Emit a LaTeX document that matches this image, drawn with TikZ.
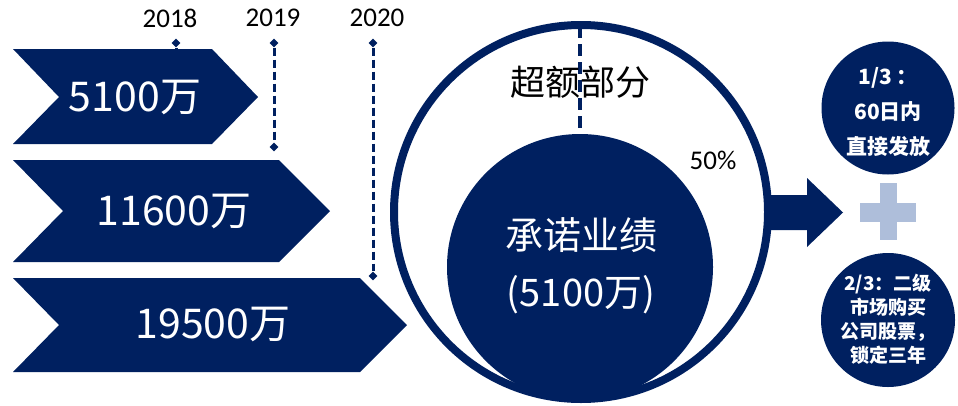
\documentclass[tikz,border=0pt]{standalone}
\usepackage{fontspec}
\setmainfont{Carlito}
\newfontfamily\cjk{Noto Sans CJK SC}
\usetikzlibrary{shapes.geometric}
\definecolor{navy}{RGB}{0,32,96}
\definecolor{plusblue}{RGB}{174,190,218}
\tikzset{
  chev/.style={fill=navy, draw=none},
  bigtxt/.style={text=white, font=\cjk\fontsize{41}{41}\selectfont, inner sep=0pt},
  yeartxt/.style={font=\fontsize{27}{27}\selectfont, text=black, inner sep=0pt},
  marker/.style={diamond, fill=navy, inner sep=0pt, minimum size=9pt},
  tline/.style={navy, line width=3pt, dash pattern=on 8pt off 4pt},
  smalltxt/.style={text=white, align=center, inner sep=0pt},
}
\begin{document}
\begin{tikzpicture}[x=1pt,y=-1pt]
\useasboundingbox (0,0) rectangle (958,405);
% chevrons
\fill[chev] (13,49) -- (212,49) -- (258,97) -- (212,144) -- (13,144) -- (59,97) -- cycle;
\fill[chev] (13,160) -- (279,160) -- (330,211) -- (279,262) -- (13,262) -- (63,211) -- cycle;
\fill[chev] (13,278) -- (360,278) -- (407,325) -- (360,372) -- (13,372) -- (59,325) -- cycle;
\node[bigtxt] (v1) at (135,97) {5100万};
\node[bigtxt] (v2) at (174,211) {11600万};
\node[bigtxt] (v3) at (213,324) {19500万};
% timeline
\node[yeartxt] (y1) at (170,18) {2018};
\node[yeartxt] (y2) at (273,18) {2019};
\node[yeartxt] (y3) at (377,18) {2020};
\node[marker] (m1) at (176,43) {};
\coordinate (m1b) at (176,49);
\draw[navy, line width=3pt] (m1) -- (m1b);
\node[marker] (m2) at (274,43) {};
\node[marker] (m2b) at (274,147) {};
\draw[tline] (m2) -- (m2b);
\node[marker] (m3) at (373,43) {};
\node[marker] (m3b) at (373,276) {};
\draw[tline] (m3) -- (m3b);
% big circle
\draw[navy, line width=8pt] (581,212) circle[radius=187];
\node[circle, fill=navy, minimum size=266pt, inner sep=0pt] (inner) at (580,267) {};
\coordinate (dtop) at (580,26);
\draw[navy, line width=4.5pt, dash pattern=on 12pt off 6pt] (dtop) -- (inner.north);
\node[font=\cjk\fontsize{35}{35}\selectfont, text=black, inner sep=0pt] (excess) at (580,82) {超额部分};
\node[font=\cjk\fontsize{38}{38}\selectfont, text=white, inner sep=0pt] (commit) at (581,235) {承诺业绩};
\node[font=\cjk\fontsize{38}{38}\selectfont, text=white, inner sep=0pt] (commitv) at (581,295) {(5100万)};
\node[yeartxt] (pct) at (713,160) {50\%};
% right arrow
\fill[navy] (764,195) -- (807,195) -- (807,178) -- (843,212.5) -- (807,247) -- (807,230) -- (764,230) -- cycle;
% plus
\fill[plusblue] (880,183) rectangle (897,240);
\fill[plusblue] (860,203) rectangle (916,222);
% small circles
\node[circle, fill=navy, minimum size=133pt, inner sep=0pt] (c1) at (888,108) {};
\node[circle, fill=navy, minimum size=134pt, inner sep=0pt] (c2) at (888,320) {};
\node[smalltxt, font=\cjk\bfseries\fontsize{21}{35}\selectfont] (t1) at (888,112) {1/3 ：\\60日内\\直接发放};
\node[smalltxt, font=\cjk\bfseries\fontsize{19}{24}\selectfont] (t2) at (888,319) {2/3：二级\\市场购买\\公司股票，\\锁定三年};
\end{tikzpicture}
\end{document}
